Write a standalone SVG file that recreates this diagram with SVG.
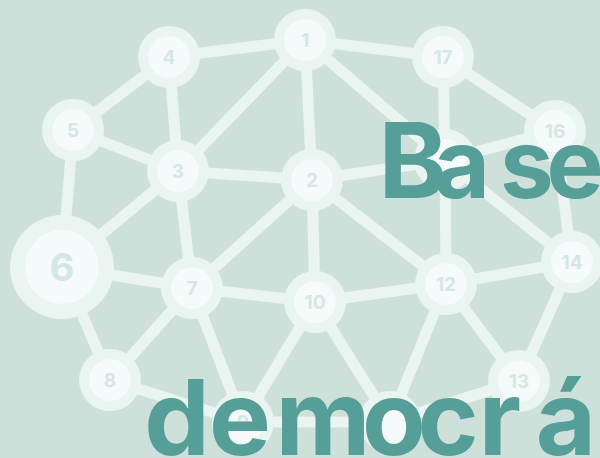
<svg xmlns="http://www.w3.org/2000/svg" width="600" height="458" viewBox="0 0 600 458">
<style>
.e{stroke:#eaf4f1;stroke-width:11;stroke-linecap:round;fill:none}
.o{fill:#eaf4f1}
.i{fill:#f5fafa}
.l{font-family:Inter,"Liberation Sans",sans-serif;font-weight:700;font-size:19px;fill:#d4e7e2;text-anchor:middle}
.t{font-family:Inter,"Liberation Sans",sans-serif;font-weight:700;fill:#569e98;text-anchor:middle}
</style>
<rect width="600" height="458" fill="#cde1da"/>
<g id="connectors" class="e">
<line x1="305" y1="40" x2="169" y2="57"/>
<line x1="305" y1="40" x2="178" y2="171"/>
<line x1="305" y1="40" x2="312" y2="180"/>
<line x1="305" y1="40" x2="443" y2="57"/>
<line x1="305" y1="40" x2="445" y2="160"/>
<line x1="169" y1="57" x2="73" y2="130"/>
<line x1="169" y1="57" x2="178" y2="171"/>
<line x1="73" y1="130" x2="178" y2="171"/>
<line x1="73" y1="130" x2="62" y2="267"/>
<line x1="178" y1="171" x2="312" y2="180"/>
<line x1="178" y1="171" x2="62" y2="267"/>
<line x1="178" y1="171" x2="192" y2="288"/>
<line x1="312" y1="180" x2="192" y2="288"/>
<line x1="312" y1="180" x2="315" y2="302"/>
<line x1="312" y1="180" x2="445" y2="160"/>
<line x1="312" y1="180" x2="446" y2="284"/>
<line x1="62" y1="267" x2="192" y2="288"/>
<line x1="62" y1="267" x2="110" y2="380"/>
<line x1="192" y1="288" x2="110" y2="380"/>
<line x1="192" y1="288" x2="315" y2="302"/>
<line x1="192" y1="288" x2="243" y2="422"/>
<line x1="110" y1="380" x2="243" y2="422"/>
<line x1="315" y1="302" x2="446" y2="284"/>
<line x1="315" y1="302" x2="243" y2="422"/>
<line x1="315" y1="302" x2="390" y2="422"/>
<line x1="243" y1="422" x2="390" y2="422"/>
<line x1="390" y1="422" x2="446" y2="284"/>
<line x1="390" y1="422" x2="519" y2="381"/>
<line x1="446" y1="284" x2="519" y2="381"/>
<line x1="446" y1="284" x2="572" y2="262"/>
<line x1="446" y1="284" x2="445" y2="160"/>
<line x1="443" y1="57" x2="445" y2="160"/>
<line x1="443" y1="57" x2="555" y2="131"/>
<line x1="555" y1="131" x2="445" y2="160"/>
<line x1="555" y1="131" x2="572" y2="262"/>
<line x1="445" y1="160" x2="572" y2="262"/>
<line x1="519" y1="381" x2="572" y2="262"/>
</g>
<g id="n1"><circle class="o" cx="305" cy="40" r="31"/><circle class="i" cx="305" cy="40" r="21"/><text class="l" x="305" y="47">1</text></g>
<g id="n2"><circle class="o" cx="312" cy="180" r="31"/><circle class="i" cx="312" cy="180" r="21"/><text class="l" x="312" y="187">2</text></g>
<g id="n3"><circle class="o" cx="178" cy="171" r="31"/><circle class="i" cx="178" cy="171" r="21"/><text class="l" x="178" y="178">3</text></g>
<g id="n4"><circle class="o" cx="169" cy="57" r="31"/><circle class="i" cx="169" cy="57" r="21"/><text class="l" x="169" y="64">4</text></g>
<g id="n5"><circle class="o" cx="73" cy="130" r="31"/><circle class="i" cx="73" cy="130" r="21"/><text class="l" x="73" y="137">5</text></g>
<g id="n6"><circle class="o" cx="62" cy="267" r="52"/><circle class="i" cx="62" cy="267" r="37"/><text class="l" x="62" y="281" style="font-size:38px">6</text></g>
<g id="n7"><circle class="o" cx="192" cy="288" r="31"/><circle class="i" cx="192" cy="288" r="21"/><text class="l" x="192" y="295">7</text></g>
<g id="n8"><circle class="o" cx="110" cy="380" r="31"/><circle class="i" cx="110" cy="380" r="21"/><text class="l" x="110" y="387">8</text></g>
<g id="n9"><circle class="o" cx="243" cy="422" r="31"/><circle class="i" cx="243" cy="422" r="21"/><text class="l" x="243" y="429">9</text></g>
<g id="n10"><circle class="o" cx="315" cy="302" r="31"/><circle class="i" cx="315" cy="302" r="21"/><text class="l" x="315" y="309">10</text></g>
<g id="n11"><circle class="o" cx="390" cy="422" r="31"/><circle class="i" cx="390" cy="422" r="21"/></g>
<g id="n12"><circle class="o" cx="446" cy="284" r="31"/><circle class="i" cx="446" cy="284" r="21"/><text class="l" x="446" y="291">12</text></g>
<g id="n13"><circle class="o" cx="519" cy="381" r="31"/><circle class="i" cx="519" cy="381" r="21"/><text class="l" x="519" y="388">13</text></g>
<g id="n14"><circle class="o" cx="572" cy="262" r="31"/><circle class="i" cx="572" cy="262" r="21"/><text class="l" x="572" y="269">14</text></g>
<g id="n15"><circle class="o" cx="445" cy="160" r="31"/><circle class="i" cx="445" cy="160" r="21"/></g>
<g id="n16"><circle class="o" cx="555" cy="131" r="31"/><circle class="i" cx="555" cy="131" r="21"/><text class="l" x="555" y="138">16</text></g>
<g id="n17"><circle class="o" cx="443" cy="57" r="31"/><circle class="i" cx="443" cy="57" r="21"/><text class="l" x="443" y="64">17</text></g>
<g id="title">
<text class="t" y="198"><tspan x="413" style="font-size:104px">B</tspan><tspan x="462" style="font-size:96px">a</tspan><tspan x="527" style="font-size:96px">s</tspan><tspan x="575" style="font-size:96px">e</tspan></text>
<text class="t" y="455" style="font-size:104px"><tspan x="177">d</tspan><tspan x="240">e</tspan><tspan x="323">m</tspan><tspan x="394">o</tspan><tspan x="448">c</tspan><tspan x="500">r</tspan><tspan x="566">á</tspan></text>
</g>
</svg>
